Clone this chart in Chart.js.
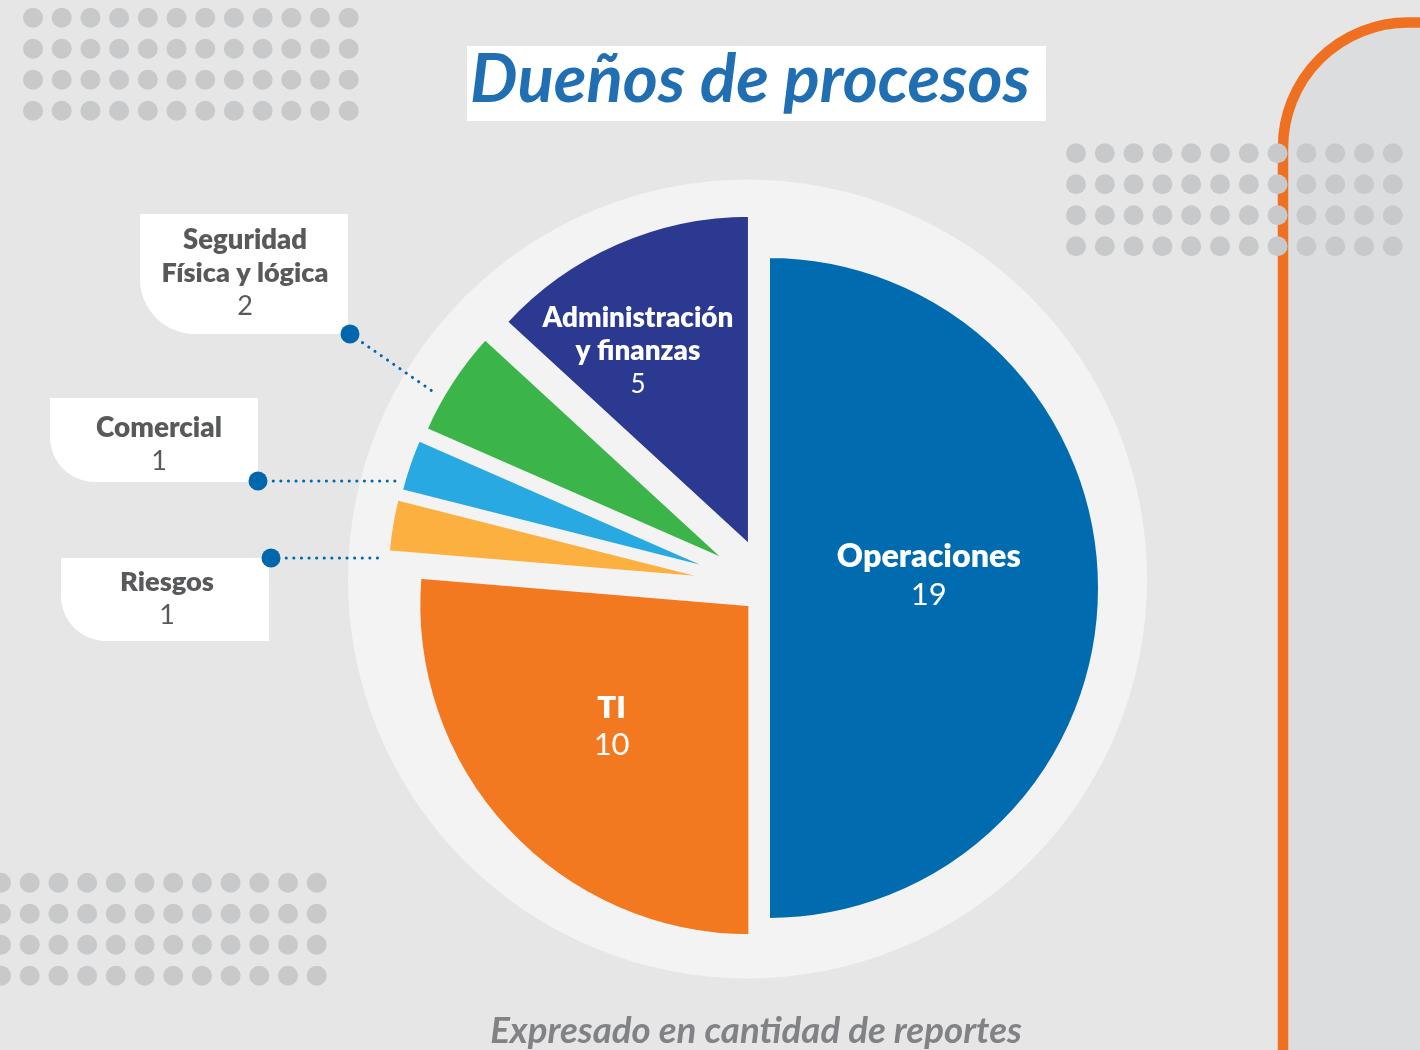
<!DOCTYPE html>
<html>
<head>
<meta charset="utf-8">
<script src="https://cdn.jsdelivr.net/npm/chart.js@4.4.1/dist/chart.umd.min.js"></script>
<style>
html,body{margin:0;padding:0;background:#e6e6e6;overflow:hidden}
canvas{display:block}
</style>
</head>
<body>
<canvas id="c" width="1420" height="1050"></canvas>
<script>
// ---- data ----
const categories = ['Operaciones', 'TI', 'Riesgos', 'Comercial', 'Seguridad Física y lógica', 'Administración y finanzas'];
const values = [19, 10, 1, 1, 2, 5];
const labelLines = [['Operaciones'], ['TI'], ['Riesgos'], ['Comercial'], ['Seguridad', 'Física y lógica'], ['Administración', 'y finanzas']];
const chartTitle = 'Dueños de procesos';
const chartNote = 'Expresado en cantidad de reportes';

// ---- styles ----
const sliceColors = ['#006CAF', '#F37920', '#FBB040', '#29A9E1', '#3BB54A', '#2B3990'];
const explode = [0, 24, 50, 48, 46, 45];
const insideLabel = [{f: 0.474, k: 0.489, size: 31, gap: 38, w: 184}, {f: 0.516, k: 0.558, size: 31, gap: 37, w: 0}, null, null, null, {f: 0.373, k: 0.685, size: 26, gap: 33, w: 191}];
const callouts = {
  2: {box: [61, 558, 208, 83, 45], tx: 167, ty: 581, dot: [271, 558], end: [383, 558], w: [94]},
  3: {box: [50, 398, 208, 84, 45], tx: 159, ty: 427, dot: [258, 481], end: [395, 481], w: [126]},
  4: {box: [140, 214, 208, 120, 55], tx: 245, ty: 239, dot: [350, 334], end: [435, 393], w: [124, 167]}
};
const BOLD = '800';

function dotGrid(ctx, x0, y0, cols, rows, dx, dy, r) {
  ctx.fillStyle = '#C8C9CA';
  for (let j = 0; j < rows; j++) for (let i = 0; i < cols; i++) {
    ctx.beginPath(); ctx.arc(x0 + i * dx, y0 + j * dy, r, 0, Math.PI * 2); ctx.fill();
  }
}
function fitSize(ctx, text, style, target) {
  ctx.font = style + ' 100px Lato';
  return 100 * target / ctx.measureText(text).width;
}

const decor = {
  id: 'decor',
  beforeDraw(chart) {
    const ctx = chart.ctx;
    ctx.save();
    ctx.fillStyle = '#E6E6E6';
    ctx.fillRect(0, 0, 1420, 1050);
    const R = 125, lx = 1283, ty = 22.5;
    ctx.beginPath();
    ctx.moveTo(lx, 1060); ctx.lineTo(lx, ty + R);
    ctx.arc(lx + R, ty + R, R, Math.PI, Math.PI * 1.5);
    ctx.lineTo(1430, ty); ctx.lineTo(1430, 1060); ctx.closePath();
    ctx.fillStyle = '#DCDDDF'; ctx.fill();
    ctx.beginPath();
    ctx.moveTo(lx, 1060); ctx.lineTo(lx, ty + R);
    ctx.arc(lx + R, ty + R, R, Math.PI, Math.PI * 1.5);
    ctx.lineTo(1430, ty);
    ctx.strokeStyle = '#F07022'; ctx.lineWidth = 10.5; ctx.stroke();
    dotGrid(ctx, 33, 17.7, 12, 4, 28.7, 31, 10);
    dotGrid(ctx, 1076, 153.3, 12, 4, 28.8, 31, 10);
    dotGrid(ctx, 1, 882.7, 12, 4, 28.7, 31, 10);
    ctx.beginPath(); ctx.arc(747.5, 579, 399.5, 0, Math.PI * 2);
    ctx.fillStyle = '#F3F3F3'; ctx.fill();
    // title
    ctx.fillStyle = '#FFFFFF'; ctx.fillRect(467, 46, 579, 75);
    let s = fitSize(ctx, chartTitle, 'italic 700', 560);
    ctx.font = 'italic 700 ' + s + 'px Lato';
    ctx.fillStyle = '#1F6FB2'; ctx.textAlign = 'center'; ctx.textBaseline = 'alphabetic';
    ctx.fillText(chartTitle, 750, 102);
    // note
    s = fitSize(ctx, chartNote, 'italic 700', 532);
    ctx.font = 'italic 700 ' + s + 'px Lato';
    ctx.fillStyle = '#808285';
    ctx.fillText(chartNote, 756, 1043);
    // callouts
    Object.keys(callouts).forEach(k => {
      const c = callouts[k], i = +k;
      const [bx, by, bw, bh, br] = c.box;
      ctx.beginPath(); ctx.roundRect(bx, by, bw, bh, [0, 0, 0, br]);
      ctx.fillStyle = '#FFFFFF'; ctx.fill();
      ctx.fillStyle = '#58595B';
      const lines = labelLines[i];
      lines.forEach((t, j) => {
        const fs = Math.min(28, fitSize(ctx, t, BOLD, c.w[j]));
        ctx.font = BOLD + ' ' + fs + 'px Lato';
        ctx.fillText(t, c.tx, c.ty + j * 33.5 + 0.358 * 27);
      });
      ctx.font = '400 27px Lato';
      ctx.fillText(String(values[i]), c.tx, c.ty + lines.length * 33 + 0.358 * 27);
      ctx.save();
      ctx.beginPath(); ctx.moveTo(c.dot[0], c.dot[1]); ctx.lineTo(c.end[0], c.end[1]);
      ctx.setLineDash([0.1, 7.5]); ctx.lineCap = 'round'; ctx.lineWidth = 3;
      ctx.strokeStyle = '#0067AC'; ctx.stroke();
      ctx.restore();
      ctx.beginPath(); ctx.arc(c.dot[0], c.dot[1], 9.5, 0, Math.PI * 2);
      ctx.fillStyle = '#0067AC'; ctx.fill();
    });
    ctx.restore();
  },
  beforeDatasetDraw(chart, args) {
    const ctx = chart.ctx;
    args.meta.data.forEach((arc, i) => {
      const mid = (arc.startAngle + arc.endAngle) / 2;
      ctx.save();
      ctx.translate(Math.cos(mid) * explode[i], Math.sin(mid) * explode[i]);
      arc.draw(ctx);
      ctx.restore();
    });
    return false;
  },
  afterDatasetsDraw(chart) {
    const ctx = chart.ctx;
    const arcs = chart.getDatasetMeta(0).data;
    ctx.save();
    ctx.fillStyle = '#FFFFFF'; ctx.textAlign = 'center'; ctx.textBaseline = 'alphabetic';
    arcs.forEach((arc, i) => {
      const L = insideLabel[i];
      if (!L) return;
      const mid = (arc.startAngle + arc.endAngle) / 2;
      const ox = arc.x + Math.cos(mid) * explode[i], oy = arc.y + Math.sin(mid) * explode[i];
      const a = arc.startAngle + L.f * (arc.endAngle - arc.startAngle);
      const r = L.k * (arc.outerRadius - 2);
      const cx = ox + Math.cos(a) * r, cy = oy + Math.sin(a) * r;
      const lines = labelLines[i].concat([String(values[i])]);
      const n = lines.length;
      const fs = L.w ? Math.min(L.size + 2, fitSize(ctx, labelLines[i][0], BOLD, L.w)) : L.size;
      lines.forEach((t, j) => {
        ctx.font = (j < n - 1 ? BOLD + ' ' + fs : '400 ' + L.size) + 'px Lato';
        ctx.fillText(t, cx, cy + (j - (n - 1) / 2) * L.gap + 0.358 * L.size);
      });
    });
    ctx.restore();
  }
};

new Chart(document.getElementById('c'), {
  type: 'pie',
  data: {
    labels: categories,
    datasets: [{
      data: values,
      backgroundColor: sliceColors,
      borderColor: '#F3F3F3',
      borderWidth: 4,
      radius: 332
    }]
  },
  options: {
    responsive: false,
    animation: false,
    events: [],
    layout: {padding: {left: 116, right: 0, top: 126, bottom: 0}},
    plugins: {legend: {display: false}, tooltip: {enabled: false}, title: {display: false}}
  },
  plugins: [decor]
});
</script>
</body>
</html>
